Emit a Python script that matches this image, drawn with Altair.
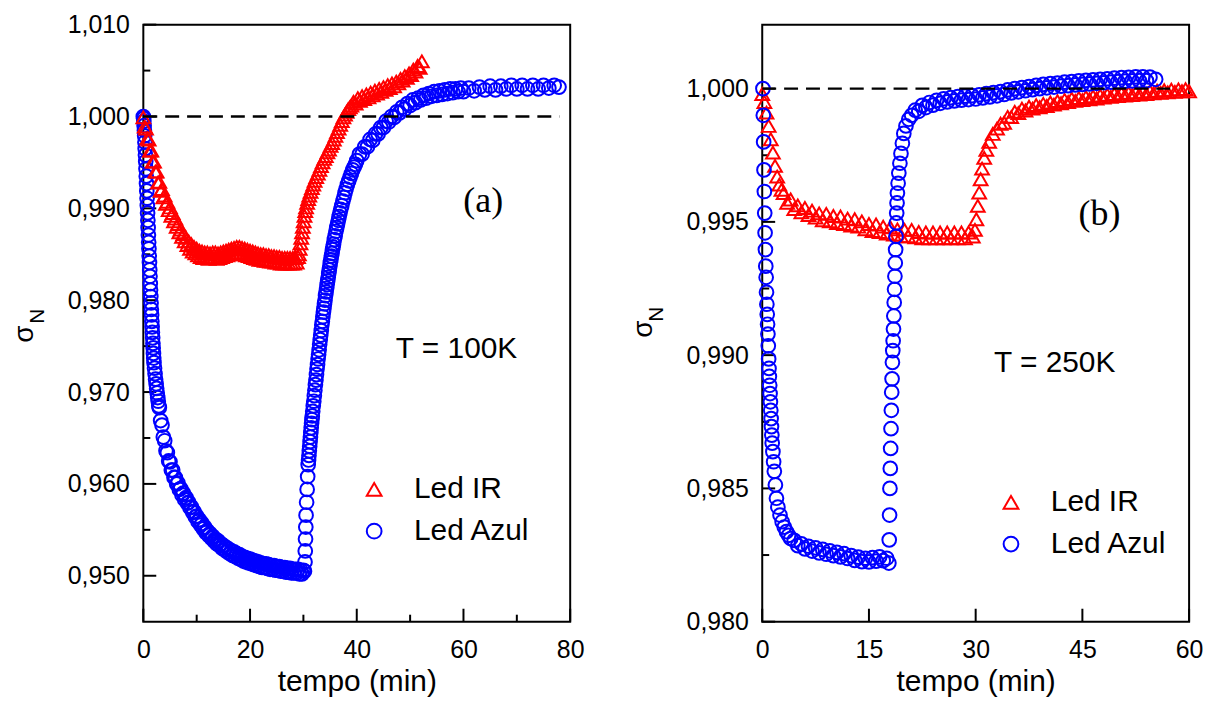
import altair as alt
import pandas as pd

# ---------------- Panel (a): T = 100K  (tempo [min], sigma_N) ----------------
a_ir = [(0.00,0.9999),(0.25,0.9989),(0.50,0.9987),(0.75,0.9976),(1.00,0.9975),(1.25,0.9963),(1.50,0.9963),
        (1.75,0.9951),(2.00,0.9951),(2.25,0.9940),(2.50,0.9940),(2.75,0.9928),(3.00,0.9929),(3.25,0.9919),
        (3.50,0.9921),(3.75,0.9912),(4.00,0.9914),(4.25,0.9905),(4.50,0.9907),(4.75,0.9898),(5.00,0.9901),
        (5.25,0.9892),(5.50,0.9895),(5.75,0.9886),(6.00,0.9889),(6.25,0.9880),(6.50,0.9883),(6.75,0.9874),
        (7.00,0.9877),(7.25,0.9869),(7.50,0.9872),(7.75,0.9864),(8.00,0.9868),(8.25,0.9860),(8.50,0.9864),
        (8.75,0.9856),(9.00,0.9861),(9.25,0.9853),(9.50,0.9858),(9.75,0.9851),(10.00,0.9856),(10.25,0.9849),
        (10.50,0.9854),(10.75,0.9847),(11.00,0.9853),(11.25,0.9846),(11.50,0.9852),(11.75,0.9846),
        (12.00,0.9852),(12.25,0.9845),(12.50,0.9851),(12.75,0.9846),(13.00,0.9852),(13.25,0.9846),
        (13.50,0.9852),(13.75,0.9845),(14.00,0.9851),(14.25,0.9846),(14.50,0.9852),(14.75,0.9847),
        (15.00,0.9853),(15.25,0.9848),(15.50,0.9854),(15.75,0.9849),(16.00,0.9855),(16.25,0.9850),
        (16.50,0.9856),(16.75,0.9851),(17.00,0.9857),(17.25,0.9852),(17.50,0.9858),(17.75,0.9852),
        (18.00,0.9858),(18.25,0.9851),(18.50,0.9857),(18.75,0.9850),(19.00,0.9856),(19.25,0.9849),
        (19.50,0.9855),(19.75,0.9848),(20.00,0.9854),(20.25,0.9847),(20.50,0.9853),(20.75,0.9846),
        (21.00,0.9852),(21.25,0.9845),(21.50,0.9851),(21.75,0.9844),(22.00,0.9850),(22.25,0.9844),
        (22.50,0.9850),(22.75,0.9843),(23.00,0.9849),(23.25,0.9843),(23.50,0.9849),(23.75,0.9842),
        (24.00,0.9848),(24.25,0.9842),(24.50,0.9848),(24.75,0.9841),(25.00,0.9847),(25.25,0.9841),
        (25.50,0.9847),(25.75,0.9840),(26.00,0.9846),(26.25,0.9840),(26.50,0.9846),(26.75,0.9840),
        (27.00,0.9846),(27.25,0.9840),(27.50,0.9846),(27.75,0.9840),(28.00,0.9846),(28.25,0.9840),
        (28.50,0.9846),(28.75,0.9841),(29.00,0.9847),
        (29.15,0.9850),(29.30,0.9856),(29.45,0.9862),(29.60,0.9868),(29.75,0.9874),(29.90,0.9880),
        (30.05,0.9886),(30.20,0.9892),(30.35,0.9897),(30.50,0.9901),(30.70,0.9906),(30.90,0.9910),
        (31.10,0.9914),(31.35,0.9918),(31.60,0.9922),(31.85,0.9926),(32.10,0.9930),(32.40,0.9934),
        (32.70,0.9938),(33.00,0.9942),(33.30,0.9946),(33.60,0.9950),(33.90,0.9954),(34.20,0.9957),
        (34.50,0.9961),(34.80,0.9964),(35.10,0.9968),(35.40,0.9971),(35.70,0.9975),(36.00,0.9979),
        (36.30,0.9983),(36.60,0.9987),(36.90,0.9991),(37.20,0.9995),(37.50,0.9999),(37.80,1.0002),
        (38.10,1.0005),(38.40,1.0008),(38.70,1.0010),(39.00,1.0012),(39.40,1.0016),(39.80,1.0014),
        (40.20,1.0020),(40.60,1.0017),(41.00,1.0022),(41.40,1.0019),(41.80,1.0024),(42.20,1.0021),
        (42.60,1.0026),(43.00,1.0023),(43.40,1.0028),(43.80,1.0025),(44.20,1.0030),(44.60,1.0027),
        (45.00,1.0032),(45.40,1.0029),(45.80,1.0034),(46.20,1.0031),(46.60,1.0036),(47.00,1.0033),
        (47.40,1.0038),(47.80,1.0036),(48.20,1.0041),(48.60,1.0039),(49.00,1.0044),(49.40,1.0042),
        (49.80,1.0047),(50.20,1.0045),(50.60,1.0051),(51.00,1.0049),(51.40,1.0055),(51.80,1.0053),
        (52.20,1.0060)]

a_az = [(0.00,1.0000),(0.05,0.9998),(0.10,0.9995),(0.15,0.9990),(0.20,0.9985),(0.25,0.9979),(0.30,0.9972),
        (0.35,0.9965),(0.40,0.9958),(0.45,0.9951),(0.50,0.9943),(0.55,0.9935),(0.60,0.9927),(0.65,0.9919),
        (0.70,0.9911),(0.75,0.9903),(0.80,0.9895),(0.85,0.9887),(0.90,0.9879),(0.95,0.9871),(1.00,0.9863),
        (1.05,0.9856),(1.10,0.9848),(1.15,0.9841),(1.20,0.9833),(1.25,0.9826),(1.30,0.9818),(1.35,0.9811),
        (1.40,0.9804),(1.45,0.9797),(1.50,0.9790),(1.55,0.9784),(1.60,0.9777),(1.65,0.9771),(1.70,0.9765),
        (1.75,0.9759),(1.80,0.9753),(1.85,0.9748),(1.90,0.9742),(1.95,0.9737),(2.00,0.9732),(2.10,0.9726),
        (2.20,0.9720),(2.30,0.9714),(2.40,0.9709),(2.50,0.9704),(2.60,0.9699),(2.70,0.9694),(2.80,0.9690),
        (2.90,0.9685),(3.00,0.9683),(3.25,0.9669),(3.50,0.9664),(3.75,0.9651),(4.00,0.9647),(4.25,0.9636),
        (4.50,0.9634),(4.75,0.9625),(5.00,0.9624),(5.25,0.9615),(5.50,0.9615),(5.75,0.9607),(6.00,0.9607),
        (6.25,0.9600),(6.50,0.9601),(6.75,0.9594),(7.00,0.9595),(7.25,0.9588),(7.50,0.9590),(7.75,0.9583),
        (8.00,0.9585),(8.25,0.9579),(8.50,0.9580),(8.75,0.9574),(9.00,0.9575),(9.25,0.9569),(9.50,0.9570),
        (9.75,0.9564),(10.00,0.9565),(10.25,0.9559),(10.50,0.9561),(10.75,0.9555),(11.00,0.9557),
        (11.25,0.9551),(11.50,0.9553),(11.75,0.9547),(12.00,0.9549),(12.25,0.9544),(12.50,0.9546),
        (12.75,0.9541),(13.00,0.9543),(13.25,0.9538),(13.50,0.9540),(13.75,0.9535),(14.00,0.9538),
        (14.25,0.9533),(14.50,0.9535),(14.75,0.9530),(15.00,0.9533),(15.25,0.9528),(15.50,0.9531),
        (15.75,0.9526),(16.00,0.9529),(16.25,0.9524),(16.50,0.9527),(16.75,0.9522),(17.00,0.9526),
        (17.25,0.9521),(17.50,0.9524),(17.75,0.9519),(18.00,0.9523),(18.25,0.9518),(18.50,0.9521),
        (18.75,0.9516),(19.00,0.9520),(19.25,0.9515),(19.50,0.9519),(19.75,0.9514),(20.00,0.9518),
        (20.25,0.9513),(20.50,0.9517),(20.75,0.9512),(21.00,0.9516),(21.25,0.9511),(21.50,0.9515),
        (21.75,0.9510),(22.00,0.9514),(22.25,0.9509),(22.50,0.9513),(22.75,0.9509),(23.00,0.9513),
        (23.25,0.9508),(23.50,0.9512),(23.75,0.9507),(24.00,0.9511),(24.25,0.9507),(24.50,0.9511),
        (24.75,0.9506),(25.00,0.9510),(25.25,0.9506),(25.50,0.9510),(25.75,0.9505),(26.00,0.9509),
        (26.25,0.9505),(26.50,0.9509),(26.75,0.9504),(27.00,0.9508),(27.25,0.9504),(27.50,0.9508),
        (27.75,0.9503),(28.00,0.9507),(28.25,0.9503),(28.50,0.9507),(28.75,0.9503),(29.00,0.9507),
        (29.25,0.9502),(29.50,0.9506),(29.75,0.9502),(30.00,0.9506),
        (30.20,0.9505),(30.30,0.9515),(30.35,0.9527),(30.40,0.9540),(30.45,0.9553),(30.50,0.9566),
        (30.60,0.9580),(30.70,0.9594),(30.80,0.9608),(30.90,0.9621),(30.97,0.9626),(31.04,0.9631),
        (31.11,0.9636),(31.18,0.9641),(31.25,0.9646),(31.32,0.9651),(31.39,0.9656),(31.46,0.9661),
        (31.53,0.9666),(31.60,0.9670),(31.67,0.9674),(31.75,0.9679),(31.85,0.9685),(31.95,0.9690),
        (32.05,0.9696),(32.15,0.9702),(32.25,0.9708),(32.35,0.9713),(32.45,0.9719),(32.55,0.9725),
        (32.65,0.9730),(32.75,0.9736),(32.85,0.9741),(32.95,0.9746),(33.05,0.9752),(33.15,0.9757),
        (33.25,0.9762),(33.35,0.9767),(33.45,0.9773),(33.55,0.9777),(33.65,0.9782),(33.75,0.9787),
        (33.85,0.9791),(33.95,0.9796),(34.05,0.9800),(34.15,0.9805),(34.25,0.9809),(34.35,0.9813),
        (34.45,0.9817),(34.55,0.9821),(34.65,0.9825),(34.75,0.9829),(34.85,0.9833),(34.95,0.9837),
        (35.05,0.9841),(35.15,0.9844),(35.25,0.9848),(35.35,0.9851),(35.45,0.9855),(35.55,0.9858),
        (35.65,0.9861),(35.80,0.9866),(35.95,0.9870),(36.10,0.9875),(36.25,0.9879),(36.40,0.9883),
        (36.55,0.9887),(36.70,0.9891),(36.85,0.9895),(37.00,0.9899),(37.20,0.9903),(37.40,0.9908),
        (37.60,0.9912),(37.80,0.9917),(38.00,0.9921),(38.25,0.9926),(38.50,0.9930),(38.75,0.9934),
        (39.00,0.9938),(39.25,0.9942),(39.50,0.9945),(39.75,0.9948),
        (40.0,0.9952),(40.5,0.9959),(41.0,0.9959),(41.5,0.9967),(42.0,0.9967),(42.5,0.9975),(43.0,0.9974),
        (43.5,0.9981),(44.0,0.9981),(44.5,0.9988),(45.0,0.9988),(45.5,0.9995),(46.0,0.9994),(46.5,1.0000),
        (47.0,0.9999),(47.5,1.0005),(48.0,1.0004),(48.5,1.0010),(49.0,1.0008),(49.5,1.0014),(50.0,1.0012),
        (50.5,1.0018),(51.0,1.0015),(51.5,1.0020),(52.0,1.0018),(52.5,1.0023),(53.0,1.0020),(53.5,1.0025),
        (54.0,1.0022),(54.5,1.0027),(55.0,1.0023),(55.5,1.0028),(56.0,1.0024),(56.5,1.0029),(57.0,1.0025),
        (57.5,1.0030),(58.0,1.0026),(58.5,1.0030),(59.0,1.0027),(59.5,1.0031),(60.0,1.0027),(61.0,1.0031),
        (62.0,1.0028),(63.0,1.0032),(64.0,1.0029),(65.0,1.0033),(66.0,1.0029),(67.0,1.0033),(68.0,1.0030),
        (69.0,1.0034),(70.0,1.0030),(71.0,1.0034),(72.0,1.0030),(73.0,1.0034),(74.0,1.0030),(75.0,1.0034),
        (76.0,1.0031),(77.0,1.0034),(77.9,1.0032)]

# ---------------- Panel (b): T = 250K ----------------
b_ir = [(0.0,0.9998),(0.3,0.9995),(0.6,0.9991),(0.9,0.9986),(1.2,0.9981),(1.5,0.9976),(1.8,0.9971),
        (2.1,0.9967),(2.4,0.9964),(2.7,0.9962),(3.0,0.99608),(3.5,0.99572),(4.0,0.99584),(4.5,0.99548),
        (5.0,0.99562),(5.5,0.99536),(6.0,0.99552),(6.5,0.99526),(7.0,0.99542),(7.5,0.99516),(8.0,0.99532),
        (8.5,0.99506),(9.0,0.99530),(9.5,0.99502),(10.0,0.99522),(10.5,0.99496),(11.0,0.99520),
        (11.5,0.99492),(12.0,0.99512),(12.5,0.99486),(13.0,0.99510),(13.5,0.99482),(14.0,0.99502),
        (14.5,0.99472),(15.0,0.99492),(15.5,0.99466),(16.0,0.99490),(16.5,0.99462),(17.0,0.99482),
        (17.5,0.99456),(18.0,0.99480),(18.5,0.99452),(19.0,0.99472),(19.5,0.99446),(20.0,0.99470),
        (20.5,0.99446),(21.0,0.99470),(21.5,0.99442),(22.0,0.99462),(22.5,0.99438),(23.0,0.99460),
        (23.5,0.99438),(24.0,0.99460),(24.5,0.99438),(25.0,0.99460),(25.5,0.99438),(26.0,0.99460),
        (26.5,0.99438),(27.0,0.99460),(27.5,0.99438),(28.0,0.99460),(28.5,0.99438),(29.0,0.99460),
        (29.6,0.99445),(29.9,0.9947),(30.1,0.9951),(30.3,0.9956),(30.5,0.9961),(30.7,0.9966),(30.9,0.9970),
        (31.2,0.9974),(31.5,0.9977),(31.9,0.9980),(32.4,0.9983),(33.0,0.9985),(33.5,0.99868),(34.0,0.99872),
        (34.5,0.99894),(35.0,0.99893),(35.5,0.99913),(36.0,0.99908),(36.5,0.99925),(37.0,0.99918),
        (37.5,0.99932),(38.0,0.99925),(38.5,0.99938),(39.0,0.99930),(39.5,0.99943),(40.0,0.99935),
        (40.5,0.99948),(41.0,0.99940),(41.5,0.99953),(42.0,0.99945),(42.5,0.99958),(43.0,0.99950),
        (43.5,0.99962),(44.0,0.99954),(44.5,0.99965),(45.0,0.99957),(45.5,0.99968),(46.0,0.99960),
        (46.5,0.99971),(47.0,0.99963),(47.5,0.99974),(48.0,0.99966),(48.5,0.99977),(49.0,0.99969),
        (49.5,0.99980),(50.0,0.99972),(50.5,0.99982),(51.0,0.99974),(51.5,0.99984),(52.0,0.99976),
        (52.5,0.99986),(53.0,0.99978),(53.5,0.99988),(54.0,0.99980),(54.5,0.99990),(55.0,0.99982),
        (55.5,0.99992),(56.0,0.99984),(56.5,0.99994),(57.0,0.99986),(57.5,0.99996),(58.0,0.99988),
        (58.5,0.99997),(59.0,0.99990),(59.5,0.99998),(60.0,0.99990)]

b_az = [(0.10,1.0000),(0.15,0.9990),(0.20,0.9980),(0.25,0.99695),(0.30,0.99614),(0.35,0.99533),
        (0.40,0.99459),(0.45,0.99396),(0.50,0.99334),(0.55,0.99292),(0.60,0.99236),(0.65,0.99191),
        (0.70,0.99153),(0.75,0.99116),(0.80,0.99079),(0.85,0.99035),(0.90,0.98986),(0.95,0.98950),
        (1.00,0.98920),(1.05,0.98887),(1.10,0.98856),(1.15,0.98825),(1.20,0.98793),(1.25,0.98762),
        (1.30,0.98732),(1.35,0.98700),(1.40,0.98670),(1.50,0.98638),(1.60,0.98600),(1.70,0.98564),
        (1.85,0.98513),(2.0,0.98463),(2.2,0.98430),(2.5,0.98400),(2.8,0.98375),(3.1,0.98355),(3.4,0.98338),
        (3.7,0.98324),(4.0,0.98312),(4.5,0.98305),(5.0,0.98285),(5.5,0.98292),(6.0,0.98273),(6.5,0.98283),
        (7.0,0.98265),(7.5,0.98277),(8.0,0.98258),(8.5,0.98271),(9.0,0.98253),(9.5,0.98266),(10.0,0.98248),
        (10.5,0.98260),(11.0,0.98243),(11.5,0.98255),(12.0,0.98237),(12.5,0.98248),(13.0,0.98230),
        (13.5,0.98242),(14.0,0.98225),(14.5,0.98238),(15.0,0.98224),(15.5,0.98240),(16.0,0.98227),
        (16.5,0.98243),(17.0,0.98229),(17.5,0.98238),(17.8,0.98220),
        (17.85,0.98307),(17.90,0.98400),(17.95,0.98500),(18.00,0.98575),(18.05,0.98650),(18.10,0.98724),
        (18.15,0.98793),(18.20,0.98861),(18.25,0.98911),(18.30,0.98973),(18.35,0.99017),(18.40,0.99054),
        (18.45,0.99098),(18.50,0.99147),(18.55,0.99198),(18.60,0.99247),(18.65,0.99296),(18.70,0.99346),
        (18.75,0.99396),(18.80,0.99446),(18.85,0.99496),(18.90,0.99533),(18.95,0.99571),(19.00,0.99608),
        (19.10,0.99645),(19.20,0.99683),(19.35,0.99720),(19.50,0.99757),(19.70,0.99795),(19.90,0.99832),
        (20.20,0.99860),(20.60,0.99885),
        (21.0,0.99900),(21.5,0.99919),(22.0,0.99915),(22.5,0.99937),(23.0,0.99929),(23.5,0.99948),
        (24.0,0.99938),(24.5,0.99956),(25.0,0.99945),(25.5,0.99962),(26.0,0.99950),(26.5,0.99966),
        (27.0,0.99954),(27.5,0.99970),(28.0,0.99957),(28.5,0.99972),(29.0,0.99959),(29.5,0.99974),
        (30.0,0.99961),(30.5,0.99977),(31.0,0.99965),(31.5,0.99981),(32.0,0.99969),(32.5,0.99985),
        (33.0,0.99973),(33.5,0.99989),(34.0,0.99978),(34.5,0.99995),(35.0,0.99984),(35.5,1.00000),
        (36.0,0.99988),(36.5,1.00004),(37.0,0.99992),(37.5,1.00008),(38.0,0.99996),(38.5,1.00012),
        (39.0,1.00000),(39.5,1.00016),(40.0,1.00003),(40.5,1.00019),(41.0,1.00006),(41.5,1.00021),
        (42.0,1.00009),(42.5,1.00024),(43.0,1.00011),(43.5,1.00026),(44.0,1.00014),(44.5,1.00029),
        (45.0,1.00016),(45.5,1.00031),(46.0,1.00018),(46.5,1.00033),(47.0,1.00020),(47.5,1.00035),
        (48.0,1.00022),(48.5,1.00037),(49.0,1.00024),(49.5,1.00039),(50.0,1.00026),(50.5,1.00041),
        (51.0,1.00028),(51.5,1.00042),(52.0,1.00029),(52.5,1.00044),(53.0,1.00030),(53.5,1.00044),
        (54.0,1.00030),(54.5,1.00043),(55.3,1.00035)]

series = ["Led IR", "Led Azul"]
colors = ["#ff0000", "#0000ff"]
shapes = ["triangle-up", "circle"]

# axis ticks / domains
xa_labels = [0, 20, 40, 60, 80]
xa_minor = [10, 30, 50, 70]
ya_labels = [0.950, 0.960, 0.970, 0.980, 0.990, 1.000, 1.010]
ya_minor = [0.955, 0.965, 0.975, 0.985, 0.995, 1.005]
xb_labels = [0, 15, 30, 45, 60]
xb_minor = []
yb_labels = [0.980, 0.985, 0.990, 0.995, 1.000]
yb_minor = [0.9825, 0.9875, 0.9925, 0.9975]

# annotations (data coordinates)
ann_a = {"t": [58.7], "v": [0.9747], "s": ["T = 100K"]}
tag_a = {"t": [63.7], "v": [0.9908], "s": ["(a)"]}
ann_b = {"t": [41.1], "v": [0.9897], "s": ["T = 250K"]}
tag_b = {"t": [47.4], "v": [0.9953], "s": ["(b)"]}
dash_a = {"t": [0.0], "t2": [78.0], "v": [1.000]}
dash_b = {"t": [0.0], "t2": [58.5], "v": [1.000]}

W, H = 429, 600
FONT = "Liberation Sans"


def frame(pairs, name):
    return pd.DataFrame({"t": [p[0] for p in pairs], "v": [p[1] for p in pairs], "serie": name})


def panel(p_ir, p_az, xdom, ydom, xlab, xmin, ylab, ymin, ann, tag, dash,
          blue_first, leg_xy, sig_xy, n_xy):
    ir = frame(p_ir, "Led IR")
    az = frame(p_az, "Led Azul")
    df = pd.concat([az, ir] if blue_first else [ir, az], ignore_index=True)

    xs = alt.Scale(domain=xdom, nice=False, zero=False)
    ys = alt.Scale(domain=ydom, nice=False, zero=False)
    xaxis = alt.Axis(values=xlab, title="tempo (min)", titleFont=FONT, titleFontSize=30,
                     titleFontWeight="normal", titleColor="black", titlePadding=4,
                     labelFont=FONT, labelFontSize=25, labelColor="black", labelPadding=16,
                     ticks=False, tickSize=0, domain=False, grid=False, format="d",
                     labelFlush=False)
    yaxis = alt.Axis(values=ylab, title="", labelFont=FONT, labelFontSize=25, labelColor="black",
                     labelPadding=14, ticks=False, tickSize=0, domain=False, grid=False,
                     labelExpr="replace(format(datum.value, '.3f'), '.', ',')")
    X = lambda f: alt.X(f, scale=xs, axis=xaxis)
    Y = lambda f: alt.Y(f, scale=ys, axis=yaxis)

    leg = alt.Legend(orient="none", legendX=leg_xy[0], legendY=leg_xy[1], title="",
                     labelFont=FONT, labelFontSize=30, labelColor="black", symbolSize=220,
                     symbolStrokeWidth=2, labelOffset=25, rowPadding=12, padding=0)

    pts = alt.Chart(df).mark_point(filled=False, strokeWidth=2, size=190, opacity=1).encode(
        x=X("t:Q"), y=Y("v:Q"),
        color=alt.Color("serie:N", scale=alt.Scale(domain=series, range=colors), legend=leg),
        shape=alt.Shape("serie:N", scale=alt.Scale(domain=series, range=shapes), legend=leg),
    )

    layers = [alt.Chart(pd.DataFrame({"v": ylab})).mark_rule(color="black", strokeWidth=2).encode(
        y=Y("v:Q"), x=alt.value(0), x2=alt.value(13))]
    if ymin:
        layers.append(alt.Chart(pd.DataFrame({"v": ymin})).mark_rule(color="black", strokeWidth=2).encode(
            y=Y("v:Q"), x=alt.value(0), x2=alt.value(7)))
    layers.append(alt.Chart(pd.DataFrame({"t": xlab})).mark_rule(color="black", strokeWidth=2).encode(
        x=X("t:Q"), y=alt.value(H), y2=alt.value(H - 13)))
    if xmin:
        layers.append(alt.Chart(pd.DataFrame({"t": xmin})).mark_rule(color="black", strokeWidth=2).encode(
            x=X("t:Q"), y=alt.value(H), y2=alt.value(H - 7)))
    layers.append(pts)
    layers.append(alt.Chart(pd.DataFrame(dash)).mark_rule(color="black", strokeWidth=2.5,
                                                         strokeDash=[14, 8]).encode(
        x=X("t:Q"), x2="t2:Q", y=Y("v:Q")))
    layers.append(alt.Chart(pd.DataFrame(ann)).mark_text(font=FONT, fontSize=30, color="black",
                                                          align="center", baseline="middle").encode(
        x=X("t:Q"), y=Y("v:Q"), text="s:N"))
    layers.append(alt.Chart(pd.DataFrame(tag)).mark_text(font="Liberation Serif", fontSize=36,
                                                          color="black", align="center",
                                                          baseline="middle").encode(
        x=X("t:Q"), y=Y("v:Q"), text="s:N"))
    layers.append(alt.Chart(pd.DataFrame({"s": ["σ"]})).mark_text(
        font=FONT, fontSize=28, color="black", angle=270, align="center", baseline="middle").encode(
        x=alt.value(sig_xy[0]), y=alt.value(sig_xy[1]), text="s:N"))
    layers.append(alt.Chart(pd.DataFrame({"s": ["N"]})).mark_text(
        font=FONT, fontSize=21, color="black", angle=270, align="center", baseline="middle").encode(
        x=alt.value(n_xy[0]), y=alt.value(n_xy[1]), text="s:N"))

    return alt.layer(*layers).properties(width=W, height=H)


pa = panel(a_ir, a_az, [0, 80], [0.945, 1.010], xa_labels, xa_minor, ya_labels,
           ya_minor, ann_a, tag_a, dash_a, True, (217, 452), (-119, 311), (-106, 293))
pb = panel(b_ir, b_az, [0, 60], [0.980, 1.0024], xb_labels, xb_minor, yb_labels,
           yb_minor, ann_b, tag_b, dash_b, False, (235, 465), (-119, 306), (-106, 291))

chart = alt.hconcat(pa, pb, spacing=193, bounds="flush").resolve_scale(
    color="independent", shape="independent", x="independent", y="independent"
).resolve_legend(color="independent", shape="independent").configure_view(
    stroke="black", strokeWidth=2
).properties(padding={"left": 2, "top": 2, "right": 5, "bottom": 5}, background="white")

chart.save("out.html", embed_options={"renderer": "svg", "actions": False})
